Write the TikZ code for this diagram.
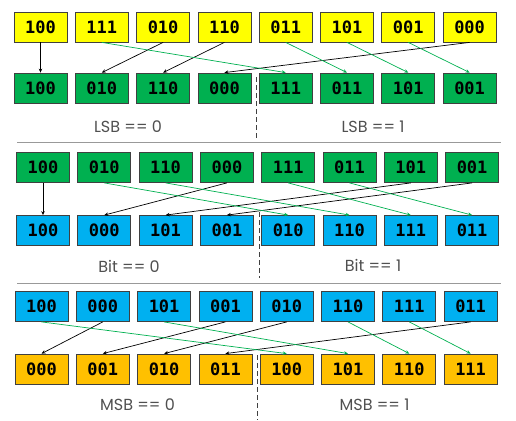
\documentclass[tikz,border=0pt]{standalone}
\usepackage{fontspec}
\usepackage{tikz}
\usetikzlibrary{calc,arrows.meta}
\newfontfamily\bitsfont{DejaVu Sans Mono}
\newfontfamily\casefont{Poppins}
\definecolor{boxyellow}{HTML}{FFFF00}
\definecolor{boxgreen}{HTML}{00B050}
\definecolor{boxblue}{HTML}{00B0F0}
\definecolor{boxorange}{HTML}{FFC000}
\definecolor{boxborder}{HTML}{404040}
\definecolor{linkgreen}{HTML}{00B050}
\definecolor{labelgray}{HTML}{505050}
\tikzstyle{bitbox}=[rectangle,draw=boxborder,line width=0.8pt,
                    minimum width=53pt,minimum height=30pt,inner sep=0pt,
                    font=\fontsize{17}{17}\selectfont\bitsfont\bfseries]
\tikzstyle{yellowbox}=[bitbox,fill=boxyellow]
\tikzstyle{greenbox}=[bitbox,fill=boxgreen]
\tikzstyle{bluebox}=[bitbox,fill=boxblue]
\tikzstyle{orangebox}=[bitbox,fill=boxorange]
\tikzstyle{zerolink}=[-{Stealth[length=4pt,width=3.5pt]},line width=0.7pt,black]
\tikzstyle{onelink}=[zerolink,linkgreen]
\tikzstyle{caselabel}=[font=\fontsize{16}{16}\selectfont\casefont,text=labelgray,inner sep=0pt]
\tikzstyle{splitline}=[line width=0.6pt,black!75,dash pattern=on 5pt off 3pt]
\tikzstyle{sectionrule}=[line width=0.9pt,black!40]
\newcommand\boxpitch{61.3}

\begin{document}
\begin{tikzpicture}[x=1pt,y=-1pt]
    \useasboundingbox (0,0) rectangle (516,420);

    % LSB pass
    \node [yellowbox] (Start1) at ($(40.5+\boxpitch*0,27)$) {100};
    \node [yellowbox] (Start2) at ($(40.5+\boxpitch*1,27)$) {111};
    \node [yellowbox] (Start3) at ($(40.5+\boxpitch*2,27)$) {010};
    \node [yellowbox] (Start4) at ($(40.5+\boxpitch*3,27)$) {110};
    \node [yellowbox] (Start5) at ($(40.5+\boxpitch*4,27)$) {011};
    \node [yellowbox] (Start6) at ($(40.5+\boxpitch*5,27)$) {101};
    \node [yellowbox] (Start7) at ($(40.5+\boxpitch*6,27)$) {001};
    \node [yellowbox] (Start8) at ($(40.5+\boxpitch*7,27)$) {000};

    \node [greenbox] (LsbOut1) at ($(40.5+\boxpitch*0,88)$) {100};
    \node [greenbox] (LsbOut2) at ($(40.5+\boxpitch*1,88)$) {010};
    \node [greenbox] (LsbOut3) at ($(40.5+\boxpitch*2,88)$) {110};
    \node [greenbox] (LsbOut4) at ($(40.5+\boxpitch*3,88)$) {000};
    \node [greenbox] (LsbOut5) at ($(40.5+\boxpitch*4,88)$) {111};
    \node [greenbox] (LsbOut6) at ($(40.5+\boxpitch*5,88)$) {011};
    \node [greenbox] (LsbOut7) at ($(40.5+\boxpitch*6,88)$) {101};
    \node [greenbox] (LsbOut8) at ($(40.5+\boxpitch*7,88)$) {001};

    \draw [zerolink] (Start1.south) -- (LsbOut1.north);
    \draw [zerolink] (Start3.south) -- (LsbOut2.north);
    \draw [zerolink] (Start4.south) -- (LsbOut3.north);
    \draw [zerolink] (Start8.south) -- (LsbOut4.north);
    \draw [onelink] (Start2.south) -- (LsbOut5.north);
    \draw [onelink] (Start5.south) -- (LsbOut6.north);
    \draw [onelink] (Start6.south) -- (LsbOut7.north);
    \draw [onelink] (Start7.south) -- (LsbOut8.north);

    \coordinate (LsbSplitTop) at (256,77);
    \coordinate (LsbSplitEnd) at (256,139);
    \draw [splitline] (LsbSplitTop) -- (LsbSplitEnd);
    \node [caselabel] (LsbZero) at (128,127) {LSB == 0};
    \node [caselabel] (LsbOne) at (373,127) {LSB == 1};

    \coordinate (RuleOneL) at (17,142);
    \coordinate (RuleOneR) at (501,142);
    \draw [sectionrule] (RuleOneL) -- (RuleOneR);

    % middle bit pass
    \node [greenbox] (LsbIn1) at ($(43+\boxpitch*0,167.5)$) {100};
    \node [greenbox] (LsbIn2) at ($(43+\boxpitch*1,167.5)$) {010};
    \node [greenbox] (LsbIn3) at ($(43+\boxpitch*2,167.5)$) {110};
    \node [greenbox] (LsbIn4) at ($(43+\boxpitch*3,167.5)$) {000};
    \node [greenbox] (LsbIn5) at ($(43+\boxpitch*4,167.5)$) {111};
    \node [greenbox] (LsbIn6) at ($(43+\boxpitch*5,167.5)$) {011};
    \node [greenbox] (LsbIn7) at ($(43+\boxpitch*6,167.5)$) {101};
    \node [greenbox] (LsbIn8) at ($(43+\boxpitch*7,167.5)$) {001};

    \node [bluebox] (BitOut1) at ($(43+\boxpitch*0,230.5)$) {100};
    \node [bluebox] (BitOut2) at ($(43+\boxpitch*1,230.5)$) {000};
    \node [bluebox] (BitOut3) at ($(43+\boxpitch*2,230.5)$) {101};
    \node [bluebox] (BitOut4) at ($(43+\boxpitch*3,230.5)$) {001};
    \node [bluebox] (BitOut5) at ($(43+\boxpitch*4,230.5)$) {010};
    \node [bluebox] (BitOut6) at ($(43+\boxpitch*5,230.5)$) {110};
    \node [bluebox] (BitOut7) at ($(43+\boxpitch*6,230.5)$) {111};
    \node [bluebox] (BitOut8) at ($(43+\boxpitch*7,230.5)$) {011};

    \draw [zerolink] (LsbIn1.south) -- (BitOut1.north);
    \draw [zerolink] (LsbIn4.south) -- (BitOut2.north);
    \draw [zerolink] (LsbIn7.south) -- (BitOut3.north);
    \draw [zerolink] (LsbIn8.south) -- (BitOut4.north);
    \draw [onelink] (LsbIn2.south) -- (BitOut5.north);
    \draw [onelink] (LsbIn3.south) -- (BitOut6.north);
    \draw [onelink] (LsbIn5.south) -- (BitOut7.north);
    \draw [onelink] (LsbIn6.south) -- (BitOut8.north);

    \coordinate (BitSplitTop) at (259,212);
    \coordinate (BitSplitEnd) at (259,278);
    \draw [splitline] (BitSplitTop) -- (BitSplitEnd);
    \node [caselabel] (BitZero) at (129,266) {Bit == 0};
    \node [caselabel] (BitOne) at (373,265) {Bit == 1};

    \coordinate (RuleTwoL) at (17,283);
    \coordinate (RuleTwoR) at (501,283);
    \draw [sectionrule] (RuleTwoL) -- (RuleTwoR);

    % MSB pass
    \node [bluebox] (BitIn1) at ($(41.5+\boxpitch*0,306.5)$) {100};
    \node [bluebox] (BitIn2) at ($(41.5+\boxpitch*1,306.5)$) {000};
    \node [bluebox] (BitIn3) at ($(41.5+\boxpitch*2,306.5)$) {101};
    \node [bluebox] (BitIn4) at ($(41.5+\boxpitch*3,306.5)$) {001};
    \node [bluebox] (BitIn5) at ($(41.5+\boxpitch*4,306.5)$) {010};
    \node [bluebox] (BitIn6) at ($(41.5+\boxpitch*5,306.5)$) {110};
    \node [bluebox] (BitIn7) at ($(41.5+\boxpitch*6,306.5)$) {111};
    \node [bluebox] (BitIn8) at ($(41.5+\boxpitch*7,306.5)$) {011};

    \node [orangebox] (MsbOut1) at ($(41.5+\boxpitch*0,369)$) {000};
    \node [orangebox] (MsbOut2) at ($(41.5+\boxpitch*1,369)$) {001};
    \node [orangebox] (MsbOut3) at ($(41.5+\boxpitch*2,369)$) {010};
    \node [orangebox] (MsbOut4) at ($(41.5+\boxpitch*3,369)$) {011};
    \node [orangebox] (MsbOut5) at ($(41.5+\boxpitch*4,369)$) {100};
    \node [orangebox] (MsbOut6) at ($(41.5+\boxpitch*5,369)$) {101};
    \node [orangebox] (MsbOut7) at ($(41.5+\boxpitch*6,369)$) {110};
    \node [orangebox] (MsbOut8) at ($(41.5+\boxpitch*7,369)$) {111};

    \draw [zerolink] (BitIn2.south) -- (MsbOut1.north);
    \draw [zerolink] (BitIn4.south) -- (MsbOut2.north);
    \draw [zerolink] (BitIn5.south) -- (MsbOut3.north);
    \draw [zerolink] (BitIn8.south) -- (MsbOut4.north);
    \draw [onelink] (BitIn1.south) -- (MsbOut5.north);
    \draw [onelink] (BitIn3.south) -- (MsbOut6.north);
    \draw [onelink] (BitIn6.south) -- (MsbOut7.north);
    \draw [onelink] (BitIn7.south) -- (MsbOut8.north);

    \coordinate (MsbSplitTop) at (257,355);
    \coordinate (MsbSplitEnd) at (257,420);
    \draw [splitline] (MsbSplitTop) -- (MsbSplitEnd);
    \node [caselabel] (MsbZero) at (137.5,405) {MSB == 0};
    \node [caselabel] (MsbOne) at (374.5,405) {MSB == 1};
\end{tikzpicture}
\end{document}
